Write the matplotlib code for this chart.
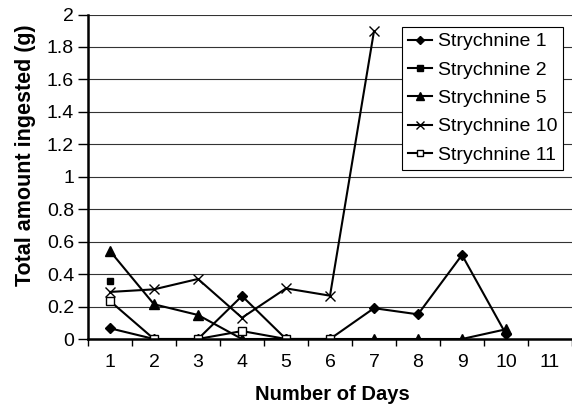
import numpy as np
import matplotlib.pyplot as plt

nan = np.nan

# days 1..11
days = np.arange(1, 12)

# amount ingested (g) per day, NaN where no value was recorded
strychnine_1 = [0.066, 0.0, 0.0, 0.265, 0.0, 0.0, 0.19, 0.152, 0.518, 0.03, nan]
strychnine_2 = [0.36, nan, nan, nan, nan, nan, nan, nan, nan, nan, nan]
strychnine_5 = [0.542, 0.214, 0.148, 0.0, 0.0, 0.0, 0.0, 0.0, 0.0, 0.06, nan]
strychnine_10 = [0.29, 0.306, 0.37, 0.131, 0.312, 0.267, 1.898, nan, nan, nan, nan]
strychnine_11 = [0.234, 0.0, 0.0, 0.049, 0.0, 0.0, nan, nan, nan, nan, nan]

y_ticks = np.arange(0, 2.01, 0.2)
y_labels = ['0', '0.2', '0.4', '0.6', '0.8', '1', '1.2', '1.4', '1.6', '1.8', '2']

plt.rcParams['font.family'] = ['Liberation Sans', 'DejaVu Sans']

W, H = 572, 408
ax_l, ax_b, ax_t = 88, 339, 14.5      # pixel edges of the plot area
fig = plt.figure(figsize=(W / 100, H / 100), dpi=100)
ax = fig.add_axes([ax_l / W, 1 - ax_b / H, 1 - ax_l / W, (ax_b - ax_t) / H])

ax.plot(days, strychnine_1, marker='D', markersize=5, color='black', linewidth=1.5, label='Strychnine 1')
ax.plot(days, strychnine_2, marker='s', markersize=5, color='black', linewidth=1.5, label='Strychnine 2')
ax.plot(days, strychnine_5, marker='^', markersize=7, color='black', linewidth=1.5, label='Strychnine 5')
ax.plot(days, strychnine_10, marker='x', markersize=7, markeredgewidth=1.0, color='black', linewidth=1.5,
        label='Strychnine 10')
ax.plot(days, strychnine_11, marker='s', markersize=6, markerfacecolor='white', markeredgewidth=1.0,
        color='black', linewidth=1.5, label='Strychnine 11')

ax.set_xlim(0.5, 11.5)
ax.set_ylim(0, 2)
ax.set_yticks(y_ticks)
ax.set_yticklabels(y_labels)
ax.yaxis.grid(True, color='#333333', linewidth=0.8)
ax.set_axisbelow(True)

# category ticks between the days, labels centred on them
ax.set_xticks(np.arange(0.5, 11.6, 1.0))
ax.set_xticklabels([])
ax.set_xticks(days, minor=True)
ax.set_xticklabels([str(d) for d in days], minor=True)
ax.tick_params(axis='x', which='minor', length=0, labelsize=14, pad=11)
ax.tick_params(axis='x', which='major', length=5, width=1.0, direction='out')
ax.tick_params(axis='y', length=7, width=1.0, labelsize=14, pad=3)

for side in ['top', 'right']:
    ax.spines[side].set_visible(False)
ax.spines['left'].set_linewidth(1.8)
ax.spines['bottom'].set_linewidth(1.8)

fig.text(332 / W, 1 - 394 / H, 'Number of Days', fontsize=14.5, fontweight='bold',
         ha='center', va='center')
fig.text(26 / W, 1 - 155 / H, 'Total amount ingested (g)', fontsize=15.5, fontweight='bold',
         rotation=90, ha='center', va='center')

ax_w, ax_h = W - ax_l, ax_b - ax_t
leg = ax.legend(loc='upper right', bbox_to_anchor=((563 - ax_l) / ax_w, 1 - (27 - ax_t) / ax_h),
                bbox_transform=ax.transAxes, fontsize=14, frameon=True,
                fancybox=False, edgecolor='black', framealpha=1, borderpad=0.3, borderaxespad=0,
                handlelength=1.25, handletextpad=0.3, labelspacing=0.55, markerscale=0.8)
leg.get_frame().set_linewidth(0.8)

fig.savefig('out.png', dpi=100)
